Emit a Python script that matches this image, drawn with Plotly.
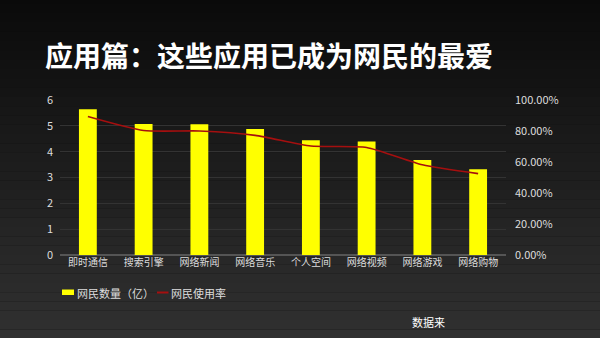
import plotly.graph_objects as go

categories = ["即时通信", "搜索引擎", "网络新闻", "网络音乐", "个人空间", "网络视频", "网络游戏", "网络购物"]
users = [5.64, 5.07, 5.06, 4.88, 4.44, 4.39, 3.68, 3.32]
usage_rate = [0.893, 0.803, 0.800, 0.772, 0.703, 0.694, 0.582, 0.525]
left_ticks = [0, 1, 2, 3, 4, 5, 6]
right_ticks = [0, 0.2, 0.4, 0.6, 0.8, 1.0]
bar_name = "网民数量（亿）"
line_name = "网民使用率"

font = "Noto Sans CJK SC"
BAR_COLOR = "#FFFF00"
LINE_COLOR = "#A50F0F"

fig = go.Figure()
fig.add_trace(go.Bar(
    x=categories, y=users, name=bar_name,
    marker=dict(color=BAR_COLOR, line=dict(width=0)), width=0.32,
))
fig.add_trace(go.Scatter(
    x=categories, y=usage_rate, name=line_name, yaxis="y2",
    mode="lines", line=dict(color=LINE_COLOR, width=1.6, shape="spline", smoothing=0.6),
))

# plot area in pixels: x 60..506, y 100..255
W, L, R, T, B = 600, 60, 94, 100, 83
pw, ph = W - L - R, 338 - T - B


def px(x):
    return (x - L) / pw


def py(y):
    return (338 - B - y) / ph


# vertical background gradient
shapes = []
n = 40
for i in range(n):
    t = i / (n - 1)
    c = int(8 + 42 * t)
    shapes.append(dict(type="rect", xref="paper", yref="paper", layer="below",
                       x0=-0.2, x1=1.3, y0=1.8 - (i + 1) * (2.4 / n), y1=1.8 - i * (2.4 / n),
                       fillcolor=f"rgb({c},{c},{c})", line=dict(width=0)))

# manual legend
shapes.append(dict(type="rect", xref="paper", yref="paper", x0=px(62), x1=px(74),
                   y0=py(295), y1=py(289.5), fillcolor=BAR_COLOR, line=dict(width=0)))
shapes.append(dict(type="line", xref="paper", yref="paper", x0=px(157), x1=px(168.5),
                   y0=py(292.5), y1=py(292.5), line=dict(color=LINE_COLOR, width=2)))

fig.update_layout(
    width=W, height=338,
    margin=dict(l=L, r=R, t=T, b=B),
    paper_bgcolor="#111111", plot_bgcolor="rgba(0,0,0,0)",
    font=dict(family=font, color="#d9d9d9", size=11),
    shapes=shapes,
    showlegend=False,
    title=dict(text="<b>应用篇：这些应用已成为网民的最爱</b>", x=0.075, xanchor="left",
               y=0.831, yanchor="middle", font=dict(family=font, size=28, color="#ffffff")),
    xaxis=dict(showgrid=False, tickfont=dict(size=10, color="#dddddd"), showline=False,
               ticks="", zeroline=False),
    yaxis=dict(range=[0, 6], tickvals=left_ticks, showgrid=True, gridcolor="#333333",
               gridwidth=1, zeroline=True, zerolinecolor="#555555", ticks="",
               tickfont=dict(size=11, color="#dddddd"), ticklabelstandoff=6),
    yaxis2=dict(range=[0, 1], overlaying="y", side="right", tickvals=right_ticks,
                tickformat=".2%", showgrid=False, zeroline=False, ticks="",
                tickfont=dict(size=11, color="#dddddd"), ticklabelstandoff=8),
)
fig.add_annotation(text=bar_name, xref="paper", yref="paper", x=px(74.5), y=py(292.5),
                   xanchor="left", yanchor="middle", showarrow=False,
                   font=dict(family=font, size=11, color="#dddddd"))
fig.add_annotation(text=line_name, xref="paper", yref="paper", x=px(169), y=py(292.5),
                   xanchor="left", yanchor="middle", showarrow=False,
                   font=dict(family=font, size=11, color="#dddddd"))
fig.add_annotation(text="数据来", xref="paper", yref="paper", x=px(410),
                   y=py(322), xanchor="left", yanchor="middle", showarrow=False,
                   font=dict(family=font, size=11, color="#ffffff"))

fig.write_html("out.html")
